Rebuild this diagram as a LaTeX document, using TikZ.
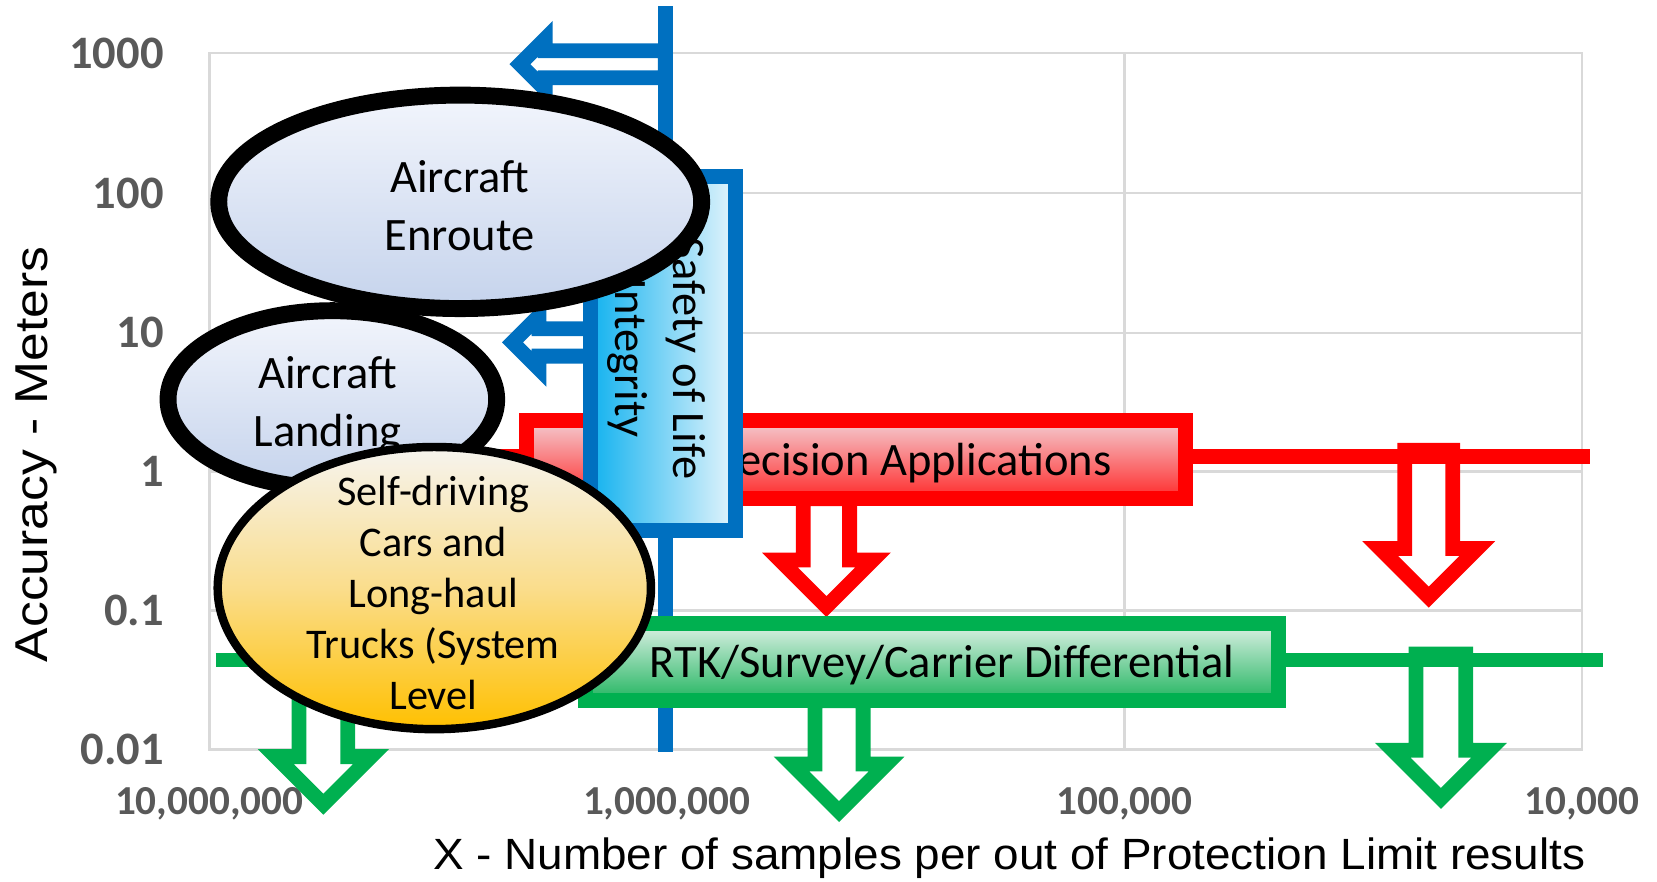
\documentclass[tikz,border=0pt]{standalone}
\usepackage{fontspec}
\usepackage{graphicx}
\usetikzlibrary{shapes.geometric}
\setmainfont{Carlito}
\newfontfamily\titlefont{Liberation Sans}

\definecolor{gridgray}{HTML}{D9D9D9}
\definecolor{ticktext}{HTML}{595959}
\definecolor{solblue}{HTML}{0070C0}
\definecolor{prred}{HTML}{FF0000}
\definecolor{rtkgreen}{HTML}{00B050}
\definecolor{airtop}{HTML}{F2F5FC}
\definecolor{airbot}{HTML}{C5D3EC}
\definecolor{cartop}{HTML}{F6F4EF}
\definecolor{carmid}{HTML}{FADD8C}
\definecolor{carbot}{HTML}{FFC000}
\definecolor{sollft}{HTML}{12B2EF}
\definecolor{solrgt}{HTML}{E6F5FC}
\definecolor{prtop}{HTML}{F4CCD1}
\definecolor{prbot}{HTML}{FF2A2A}
\definecolor{rtktop}{HTML}{DDF1E6}
\definecolor{rtkbot}{HTML}{22B560}

\tikzset{
  gridline/.style={draw=gridgray, line width=2.4pt},
  ytick/.style={anchor=east, text=ticktext, inner sep=0pt,
    font=\bfseries\fontsize{44}{44}\selectfont},
  xtick/.style={anchor=center, text=ticktext, inner sep=0pt,
    font=\bfseries\fontsize{39}{39}\selectfont},
  hollow/.style={line width=14pt, fill=white, line join=miter},
  band/.style={line width=14pt, line cap=butt},
  appbox/.style={rectangle, line width=14pt, inner sep=0pt},
  useoval/.style={ellipse, draw=black, inner sep=0pt},
  bigtext/.style={align=center, inner sep=0pt, font=\fontsize{44}{55}\selectfont},
  cartext/.style={align=center, inner sep=0pt, font=\fontsize{40}{48.3}\selectfont},
}

% hollow block arrow pointing down: colour, axis x, top y, head base y, tip y, shaft half width, head half width
\newcommand\DownBlock[7]{%
  \draw[hollow, draw=#1] ({#2-#6},#3) -- ({#2-#6},#4) -- ({#2-#7},#4) -- (#2,#5)
    -- ({#2+#7},#4) -- ({#2+#6},#4) -- ({#2+#6},#3) -- cycle;}
% hollow block arrow pointing left: colour, axis y, tail x, head base x, tip x, shaft half width, head half width
\newcommand\LeftBlock[7]{%
  \draw[hollow, draw=#1] (#3,{#2-#6}) -- (#4,{#2-#6}) -- (#4,{#2-#7}) -- (#5,#2)
    -- (#4,{#2+#7}) -- (#4,{#2+#6}) -- (#3,{#2+#6}) -- cycle;}

\begin{document}
\begin{tikzpicture}[x=1pt, y=-1pt]
\useasboundingbox (0,0) rectangle (1568,834);
\fill[white] (0,0) rectangle (1568,834);

% plot frame and grid
\draw[gridline] (198,50.2) rectangle (1497,709);
\foreach \gy in {182.6,315,446,577.5} \draw[gridline] (198,\gy) -- (1497,\gy);
\foreach \gx in {631,1064} \draw[gridline] (\gx,50.2) -- (\gx,709);

% axis values
\node[ytick] (y1000) at (155,50.2) {1000};
\node[ytick] (y100) at (155,182.6) {100};
\node[ytick] (y10) at (155,315) {10};
\node[ytick] (y1) at (155,446) {1};
\node[ytick] (y01) at (155,577.5) {0.1};
\node[ytick] (y001) at (155,709) {0.01};
\node[xtick] (x7) at (198,760.5) {10,000,000};
\node[xtick] (x6) at (631,760.5) {1,000,000};
\node[xtick] (x5) at (1064,760.5) {100,000};
\node[xtick] (x4) at (1497,760.5) {10,000};

% axis titles
\node[anchor=base, rotate=90, inner sep=0pt] (ytitle) at (45,430)
  {\resizebox{393pt}{30pt}{\titlefont Accuracy - Meters}};
\node[anchor=base, inner sep=0pt] (xtitle) at (955,823)
  {\resizebox{1090pt}{30pt}{\titlefont X - Number of samples per out of Protection Limit results}};

% safety-of-life limit line and its upper arrow
\coordinate (solTop) at (629.5,5.7);
\coordinate (solBot) at (629.5,712);
\draw[band, draw=solblue] (solTop) -- (solBot);
\LeftBlock{solblue}{60.75}{629.5}{516}{492}{12.75}{24}

% precision applications band
\DownBlock{prred}{782}{472}{530}{574}{22}{44}
\DownBlock{prred}{1352}{426}{519}{565}{22.75}{46}
\coordinate (redW) at (300,432);
\coordinate (redE) at (1505,432);
\draw[band, draw=prred] (redW) -- (redE);
\node[appbox, draw=prred, minimum width=624pt, minimum height=74pt,
  top color=prtop, bottom color=prbot] (precision) at (810,435) {};
\node[bigtext, anchor=base east] (precisionText) at (1052,449.5) {Precision Applications};

% RTK / survey band
\DownBlock{rtkgreen}{306}{619}{716}{761}{23}{45}
\DownBlock{rtkgreen}{794}{663}{723}{768}{22.75}{45}
\DownBlock{rtkgreen}{1363.5}{619}{710}{755.5}{23.5}{45.5}
\coordinate (grnW) at (204,624.5);
\coordinate (grnE) at (1517,624.5);
\draw[band, draw=rtkgreen] (grnW) -- (grnE);
\node[appbox, draw=rtkgreen, minimum width=656pt, minimum height=73pt,
  top color=rtktop, bottom color=rtkbot] (rtk) at (882,626.5) {};
\node[bigtext, anchor=base east] (rtkText) at (1168,641.5) {RTK/Survey/Carrier Differential};

% safety of life integrity box with its lower arrow
\LeftBlock{solblue}{324}{559}{510}{485}{13}{25}
\node[appbox, draw=solblue, minimum width=137pt, minimum height=335pt,
  left color=sollft, right color=solrgt] (safety) at (627.5,334.5) {};
\node[bigtext, rotate=-90] (safetyText) at (621.5,339) {Safety of Life\\Integrity};

% user groups
\node[useoval, line width=16pt, minimum width=311pt, minimum height=168pt,
  top color=airtop, bottom color=airbot] (landing) at (314.5,378) {};
\node[bigtext] (landingText) at (310,384) {Aircraft\\Landing};

\node[useoval, line width=16pt, minimum width=457pt, minimum height=202pt,
  top color=airtop, bottom color=airbot] (enroute) at (435.5,191) {};
\node[bigtext] (enrouteText) at (435,195) {Aircraft\\Enroute};

\node[useoval, line width=8pt, minimum width=410pt, minimum height=267pt,
  top color=cartop, bottom color=carbot, middle color=carmid] (cars) at (411,556.5) {};
\node[cartext] (carsText) at (410,561) {Self-driving\\Cars and\\Long-haul\\Trucks (System\\Level};
\end{tikzpicture}
\end{document}
